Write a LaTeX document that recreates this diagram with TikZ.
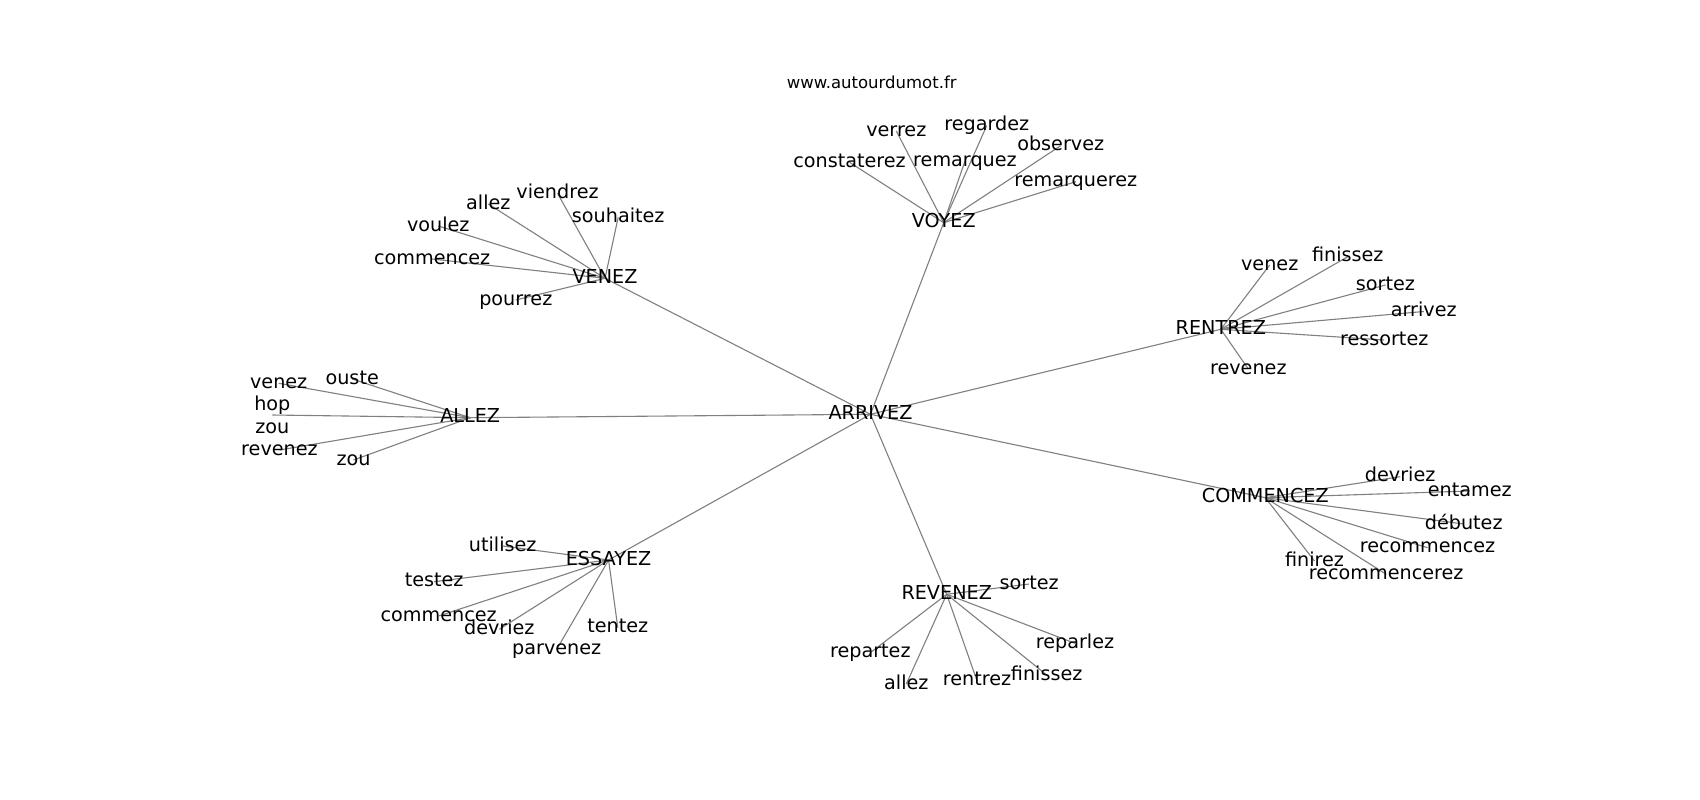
\documentclass[tikz,border=0pt]{standalone}
\usepackage{fontspec}
\setmainfont{DejaVu Sans}
\usetikzlibrary{backgrounds}
\begin{document}
\begin{tikzpicture}[x=1pt,y=-1pt,
  lbl/.style={inner sep=0pt, text height=14.6pt, text depth=4.6pt, font=\fontsize{19.2}{22.5}\selectfont},
  multi/.style={inner sep=0pt, align=center, font=\fontsize{19.2}{22.5}\selectfont},
  ttl/.style={inner sep=0pt, anchor=base, font=\fontsize{16.5}{19}\selectfont},
  edge/.style={draw=black!50, line width=1.1pt}]
\useasboundingbox (0,0) rectangle (1700,800);
\node[ttl] (title) at (871.7,88.3) {www.autourdumot.fr};
% hubs
\node[lbl] (ARRIVEZ) at (870.5,414.3) {ARRIVEZ};
\node[lbl] (VOYEZ) at (943.7,222.7) {VOYEZ};
\node[lbl] (VENEZ) at (605,278.3) {VENEZ};
\node[lbl] (ALLEZ) at (470.2,417.7) {ALLEZ};
\node[lbl] (RENTREZ) at (1220.8,329.3) {RENTREZ};
\node[lbl] (COMMENCEZ) at (1265.3,497.7) {COMMENCEZ};
\node[lbl] (ESSAYEZ) at (608.6,560) {ESSAYEZ};
\node[lbl] (REVENEZ) at (946.7,594.3) {REVENEZ};
% VOYEZ
\node[lbl] (verrez) at (896.3,131) {verrez};
\node[lbl] (regardez) at (986.7,125.7) {regardez};
\node[lbl] (observez) at (1060.7,145.7) {observez};
\node[lbl] (constaterez) at (849.5,162.3) {constaterez};
\node[lbl] (remarquez) at (965,161) {remarquez};
\node[lbl] (remarquerez) at (1075.8,181.7) {remarquerez};
% VENEZ
\node[lbl] (allezv) at (488.3,204) {allez};
\node[lbl] (viendrez) at (557.5,193.3) {viendrez};
\node[lbl] (souhaitez) at (618.2,217.3) {souhaitez};
\node[lbl] (voulez) at (438.3,226) {voulez};
\node[lbl] (commencezv) at (432.2,259) {commencez};
\node[lbl] (pourrez) at (515.8,300) {pourrez};
% ALLEZ
\node[lbl] (veneza) at (278.7,383.3) {venez};
\node[lbl] (ouste) at (352.2,379) {ouste};
\node[multi] (hopzou) at (272.3,415) {hop\\zou};
\node[lbl] (reveneza) at (279.5,450) {revenez};
\node[lbl] (zou) at (353.5,460) {zou};
% RENTREZ
\node[lbl] (venezr) at (1269.7,265) {venez};
\node[lbl] (finissezr) at (1347.8,256.7) {finissez};
\node[lbl] (sortezr) at (1385.5,285) {sortez};
\node[lbl] (arrivez) at (1423.8,311.5) {arrivez};
\node[lbl] (ressortez) at (1384.2,340) {ressortez};
\node[lbl] (revenezr) at (1248.3,369) {revenez};
% COMMENCEZ
\node[lbl] (devriezc) at (1400.2,476.7) {devriez};
\node[lbl] (entamez) at (1469.7,491) {entamez};
\node[lbl] (debutez) at (1463.7,524) {débutez};
\node[lbl] (recommencez) at (1427.5,547.7) {recommencez};
\node[lbl] (finirez) at (1314.5,561) {finirez};
\node[lbl] (recommencerez) at (1386.2,574.3) {recommencerez};
% ESSAYEZ
\node[lbl] (utilisez) at (502.7,546) {utilisez};
\node[lbl] (testez) at (434.2,581.7) {testez};
\node[lbl] (commenceze) at (438.7,616) {commencez};
\node[lbl] (devrieze) at (499.3,629.3) {devriez};
\node[lbl] (parvenez) at (556.7,649.3) {parvenez};
\node[lbl] (tentez) at (617.8,627.7) {tentez};
% REVENEZ
\node[lbl] (sortezrv) at (1029.2,584) {sortez};
\node[lbl] (repartez) at (870.3,652.7) {repartez};
\node[lbl] (allezrv) at (906.3,684) {allez};
\node[lbl] (rentrez) at (977,680.7) {rentrez};
\node[lbl] (finissezrv) at (1046.7,675) {finissez};
\node[lbl] (reparlez) at (1075,643.3) {reparlez};
\begin{pgfonlayer}{background}
\fill[white] (0,0) rectangle (1700,800);
\foreach \a/\b in {ARRIVEZ/VOYEZ, ARRIVEZ/VENEZ, ARRIVEZ/ALLEZ, ARRIVEZ/RENTREZ, ARRIVEZ/COMMENCEZ, ARRIVEZ/ESSAYEZ, ARRIVEZ/REVENEZ,
  VOYEZ/verrez, VOYEZ/regardez, VOYEZ/observez, VOYEZ/constaterez, VOYEZ/remarquez, VOYEZ/remarquerez,
  VENEZ/allezv, VENEZ/viendrez, VENEZ/souhaitez, VENEZ/voulez, VENEZ/commencezv, VENEZ/pourrez,
  ALLEZ/veneza, ALLEZ/ouste, ALLEZ/hopzou, ALLEZ/reveneza, ALLEZ/zou,
  RENTREZ/venezr, RENTREZ/finissezr, RENTREZ/sortezr, RENTREZ/arrivez, RENTREZ/ressortez, RENTREZ/revenezr,
  COMMENCEZ/devriezc, COMMENCEZ/entamez, COMMENCEZ/debutez, COMMENCEZ/recommencez, COMMENCEZ/finirez, COMMENCEZ/recommencerez,
  ESSAYEZ/utilisez, ESSAYEZ/testez, ESSAYEZ/commenceze, ESSAYEZ/devrieze, ESSAYEZ/parvenez, ESSAYEZ/tentez,
  REVENEZ/sortezrv, REVENEZ/repartez, REVENEZ/allezrv, REVENEZ/rentrez, REVENEZ/finissezrv, REVENEZ/reparlez}
  \draw[edge] (\a.center) -- (\b.center);
\end{pgfonlayer}
\end{tikzpicture}
\end{document}
